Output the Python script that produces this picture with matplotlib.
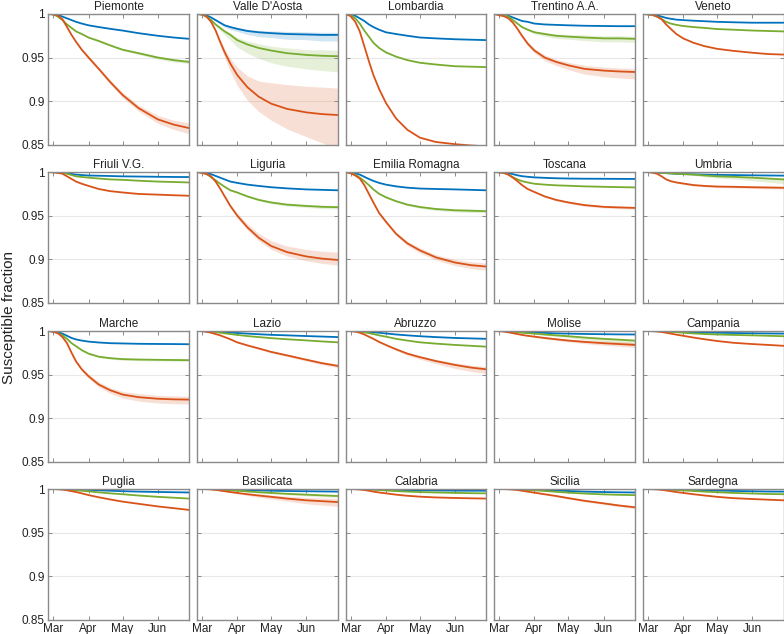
import matplotlib
matplotlib.use("Agg")
import matplotlib.pyplot as plt
import numpy as np

plt.rcParams['font.family'] = ['Liberation Sans', 'DejaVu Sans']

# days relative to 1 March
days = [-4.5, 0, 4, 8, 12, 16, 20, 25, 31, 40, 50, 61, 75, 92, 106, 119.5]

regions = ["Piemonte", "Valle D'Aosta", "Lombardia", "Trentino A.A.", "Veneto",
           "Friuli V.G.", "Liguria", "Emilia Romagna", "Toscana", "Umbria",
           "Marche", "Lazio", "Abruzzo", "Molise", "Campania",
           "Puglia", "Basilicata", "Calabria", "Sicilia", "Sardegna"]

month_ticks = [0, 31, 61, 92]
month_labels = ["Mar", "Apr", "May", "Jun"]
y_ticks = [0.85, 0.9, 0.95, 1.0]
y_labels = ["0.85", "0.9", "0.95", "1"]

# susceptible fraction curves: blue, green, orange
blue = {
 "Piemonte":      [1,0.9998,0.999,0.997,0.995,0.993,0.991,0.989,0.987,0.985,0.983,0.981,0.978,0.975,0.973,0.9715],
 "Valle D'Aosta": [1,0.9995,0.9985,0.996,0.993,0.990,0.987,0.985,0.983,0.9805,0.979,0.978,0.977,0.9765,0.976,0.976],
 "Lombardia":     [1,0.9995,0.998,0.995,0.992,0.988,0.985,0.982,0.979,0.977,0.975,0.973,0.972,0.971,0.9705,0.970],
 "Trentino A.A.": [1,0.9998,0.9995,0.998,0.996,0.994,0.992,0.991,0.989,0.988,0.9875,0.987,0.9865,0.9862,0.986,0.986],
 "Veneto":        [1,0.9998,0.9995,0.9985,0.997,0.9955,0.9945,0.9935,0.993,0.9923,0.9917,0.991,0.9905,0.990,0.990,0.990],
 "Friuli V.G.":   [1,0.9999,0.9997,0.9993,0.9985,0.9978,0.997,0.9965,0.996,0.9957,0.9954,0.995,0.9948,0.9945,0.9943,0.9942],
 "Liguria":       [1,0.9997,0.999,0.9975,0.9955,0.9935,0.9915,0.989,0.9875,0.9855,0.984,0.9825,0.9812,0.980,0.9795,0.979],
 "Emilia Romagna":[1,0.9996,0.9986,0.997,0.9945,0.992,0.9898,0.9875,0.9855,0.9835,0.982,0.981,0.9805,0.980,0.9795,0.979],
 "Toscana":       [1,0.9998,0.9995,0.9988,0.9975,0.9962,0.9952,0.9945,0.9938,0.9933,0.9928,0.9925,0.9923,0.9922,0.9921,0.992],
 "Umbria":        [1,0.9999,0.9997,0.9993,0.999,0.9987,0.9984,0.998,0.9977,0.9974,0.997,0.9967,0.9965,0.9962,0.996,0.9958],
 "Marche":        [1,0.9996,0.9985,0.997,0.9945,0.992,0.9903,0.989,0.9878,0.9868,0.986,0.9857,0.9853,0.9851,0.985,0.9848],
 "Lazio":         [1,1,0.9999,0.9997,0.9994,0.999,0.9986,0.9982,0.9977,0.997,0.9963,0.9956,0.995,0.9942,0.9936,0.993],
 "Abruzzo":       [1,1,0.9999,0.9997,0.9994,0.999,0.9985,0.998,0.9972,0.996,0.995,0.994,0.993,0.992,0.9915,0.991],
 "Molise":        [1,1,1,0.9998,0.9996,0.9993,0.999,0.9987,0.9983,0.9978,0.9973,0.997,0.9966,0.9963,0.9961,0.996],
 "Campania":      [1,1,1,0.9999,0.9998,0.9996,0.9994,0.9992,0.999,0.9986,0.9982,0.998,0.9977,0.9974,0.9972,0.997],
 "Puglia":        [1,1,1,1,0.9999,0.9997,0.9995,0.9993,0.999,0.9985,0.998,0.9975,0.997,0.9966,0.9963,0.996],
 "Basilicata":    [1,1,1,1,0.9999,0.9998,0.9996,0.9994,0.9992,0.9988,0.9984,0.998,0.9977,0.9974,0.9972,0.997],
 "Calabria":      [1,1,1,1,0.9999,0.9998,0.9997,0.9995,0.9993,0.999,0.9987,0.9985,0.9983,0.9981,0.998,0.998],
 "Sicilia":       [1,1,1,1,0.9999,0.9998,0.9997,0.9995,0.9993,0.9988,0.9983,0.9977,0.997,0.9965,0.9962,0.996],
 "Sardegna":      [1,1,1,1,0.9999,0.9998,0.9997,0.9995,0.9993,0.999,0.9986,0.9982,0.9978,0.9974,0.9971,0.997],
}
green = {
 "Piemonte":      [1,0.9995,0.997,0.993,0.988,0.984,0.980,0.977,0.973,0.969,0.964,0.959,0.955,0.950,0.947,0.945],
 "Valle D'Aosta": [1,0.9995,0.997,0.993,0.988,0.984,0.980,0.976,0.970,0.965,0.961,0.958,0.955,0.953,0.952,0.9515],
 "Lombardia":     [1,0.999,0.995,0.989,0.981,0.974,0.967,0.961,0.956,0.951,0.947,0.944,0.942,0.940,0.9395,0.939],
 "Trentino A.A.": [1,0.9995,0.999,0.997,0.993,0.989,0.985,0.982,0.979,0.977,0.975,0.974,0.973,0.972,0.972,0.9715],
 "Veneto":        [1,0.9997,0.9988,0.997,0.994,0.991,0.989,0.9875,0.9862,0.985,0.984,0.9827,0.982,0.981,0.9805,0.980],
 "Friuli V.G.":   [1,0.9998,0.9995,0.9988,0.998,0.9965,0.995,0.9943,0.9935,0.9925,0.9915,0.991,0.990,0.989,0.9885,0.988],
 "Liguria":       [1,0.9992,0.9977,0.994,0.9905,0.9865,0.983,0.979,0.9765,0.972,0.968,0.965,0.9625,0.961,0.960,0.9596],
 "Emilia Romagna":[1,0.999,0.9968,0.9935,0.9895,0.985,0.980,0.975,0.971,0.9665,0.9625,0.9598,0.9575,0.956,0.9555,0.955],
 "Toscana":       [1,0.9997,0.999,0.997,0.994,0.9915,0.9895,0.988,0.9865,0.9855,0.9847,0.9842,0.9835,0.983,0.9826,0.9823],
 "Umbria":        [1,0.9999,0.9997,0.9994,0.999,0.9987,0.9984,0.998,0.9976,0.997,0.996,0.995,0.9945,0.9935,0.9925,0.9915],
 "Marche":        [1,0.9993,0.9975,0.995,0.991,0.986,0.9825,0.978,0.974,0.9705,0.9688,0.9677,0.9672,0.9669,0.9667,0.9665],
 "Lazio":         [1,0.9999,0.9997,0.9993,0.9987,0.998,0.9973,0.9965,0.9955,0.9942,0.993,0.9918,0.9905,0.9892,0.988,0.987],
 "Abruzzo":       [1,0.9999,0.9997,0.9992,0.9985,0.9975,0.9965,0.995,0.9935,0.991,0.989,0.987,0.9855,0.984,0.983,0.982],
 "Molise":        [1,1,0.9998,0.9995,0.999,0.9985,0.998,0.9975,0.997,0.996,0.995,0.994,0.9925,0.991,0.990,0.989],
 "Campania":      [1,1,1,0.9998,0.9996,0.9993,0.999,0.9986,0.998,0.9972,0.9965,0.996,0.9955,0.995,0.9945,0.994],
 "Puglia":        [1,1,1,0.9998,0.9995,0.999,0.9985,0.998,0.9973,0.9962,0.995,0.994,0.9925,0.991,0.990,0.989],
 "Basilicata":    [1,1,1,0.9998,0.9996,0.9993,0.999,0.9985,0.998,0.9972,0.9963,0.9955,0.9945,0.9935,0.9927,0.992],
 "Calabria":      [1,1,1,0.9999,0.9997,0.9995,0.9992,0.9988,0.9983,0.9976,0.997,0.9965,0.996,0.9955,0.9952,0.995],
 "Sicilia":       [1,1,1,0.9999,0.9998,0.9996,0.9993,0.999,0.9985,0.9977,0.9968,0.9958,0.9948,0.9938,0.9933,0.993],
 "Sardegna":      [1,1,1,0.9999,0.9997,0.9995,0.9992,0.9988,0.9984,0.9977,0.997,0.9963,0.9955,0.9948,0.9943,0.994],
}
orange = {
 "Piemonte":      [1,0.9995,0.998,0.994,0.985,0.976,0.968,0.959,0.950,0.937,0.922,0.907,0.892,0.879,0.873,0.869],
 "Valle D'Aosta": [1,0.9995,0.997,0.991,0.981,0.968,0.956,0.943,0.930,0.916,0.905,0.897,0.891,0.887,0.885,0.884],
 "Lombardia":     [1,0.9975,0.991,0.980,0.963,0.946,0.930,0.914,0.898,0.880,0.867,0.858,0.853,0.8505,0.849,0.848],
 "Trentino A.A.": [1,0.9985,0.9975,0.995,0.990,0.983,0.975,0.966,0.958,0.950,0.945,0.941,0.937,0.935,0.934,0.9334],
 "Veneto":        [1,0.9995,0.999,0.997,0.994,0.988,0.983,0.977,0.972,0.967,0.963,0.960,0.9577,0.9555,0.954,0.9534],
 "Friuli V.G.":   [1,0.9995,0.999,0.998,0.995,0.992,0.989,0.9865,0.984,0.9805,0.978,0.9765,0.9748,0.974,0.9733,0.9727],
 "Liguria":       [1,0.999,0.9977,0.995,0.989,0.981,0.972,0.961,0.950,0.9365,0.9245,0.915,0.908,0.903,0.9005,0.899],
 "Emilia Romagna":[1,0.9985,0.996,0.9925,0.985,0.975,0.965,0.953,0.943,0.929,0.918,0.910,0.902,0.896,0.893,0.8914],
 "Toscana":       [1,0.9995,0.999,0.997,0.9935,0.9895,0.985,0.9805,0.977,0.972,0.968,0.965,0.962,0.960,0.9593,0.9588],
 "Umbria":        [1,0.9998,0.9993,0.998,0.995,0.9915,0.9895,0.988,0.9868,0.985,0.984,0.9833,0.983,0.9825,0.9822,0.9819],
 "Marche":        [1,0.999,0.9975,0.993,0.986,0.975,0.965,0.956,0.948,0.9385,0.932,0.927,0.924,0.9222,0.9215,0.9212],
 "Lazio":         [1,0.9998,0.999,0.998,0.9965,0.995,0.993,0.9905,0.987,0.9835,0.980,0.976,0.972,0.967,0.963,0.960],
 "Abruzzo":       [1,0.9998,0.9993,0.998,0.996,0.9935,0.991,0.9875,0.984,0.979,0.974,0.970,0.9655,0.961,0.958,0.956],
 "Molise":        [1,0.9998,0.9993,0.9985,0.9975,0.9965,0.9955,0.9945,0.9935,0.992,0.9905,0.989,0.9875,0.986,0.985,0.984],
 "Campania":      [1,1,0.9998,0.9994,0.9988,0.998,0.997,0.9958,0.9945,0.9925,0.9905,0.9885,0.9865,0.985,0.984,0.983],
 "Puglia":        [1,1,0.9997,0.9993,0.9985,0.9975,0.9965,0.995,0.993,0.9905,0.988,0.9855,0.983,0.980,0.978,0.976],
 "Basilicata":    [1,1,0.9998,0.9995,0.999,0.9982,0.9975,0.9965,0.9955,0.994,0.9925,0.991,0.989,0.987,0.986,0.985],
 "Calabria":      [1,1,0.9998,0.9994,0.9988,0.998,0.997,0.996,0.995,0.9935,0.9922,0.9912,0.9903,0.9897,0.9893,0.989],
 "Sicilia":       [1,1,0.9999,0.9997,0.9993,0.9988,0.998,0.997,0.9958,0.994,0.992,0.9895,0.9865,0.9835,0.981,0.979],
 "Sardegna":      [1,1,0.9998,0.9995,0.999,0.9983,0.9975,0.9965,0.9955,0.994,0.9925,0.991,0.9895,0.9885,0.9877,0.987],
}

# uncertainty bands: (offset below, offset above) at each day
bands = {
 ("Piemonte", "orange"): ([0,0,0,0,0.0005,0.001,0.001,0.0015,0.002,0.002,0.0025,0.003,0.0035,0.0045,0.0055,0.0065],
                          [0,0,0,0,0.0005,0.001,0.001,0.0015,0.002,0.002,0.0025,0.003,0.0035,0.0045,0.005,0.006]),
 ("Piemonte", "green"):  ([0,0,0,0,0,0.0003,0.0005,0.0005,0.0007,0.001,0.001,0.0012,0.0015,0.0018,0.002,0.002],
                          [0,0,0,0,0,0.0003,0.0005,0.0005,0.0007,0.001,0.001,0.0012,0.0015,0.0018,0.002,0.002]),
 ("Valle D'Aosta", "orange"): ([0,0,0,0.001,0.002,0.004,0.006,0.009,0.012,0.015,0.017,0.019,0.023,0.028,0.033,0.040],
                               [0,0,0,0.001,0.002,0.003,0.004,0.006,0.009,0.013,0.018,0.024,0.028,0.030,0.031,0.031]),
 ("Valle D'Aosta", "green"):  ([0,0,0,0.001,0.002,0.003,0.004,0.006,0.008,0.010,0.012,0.014,0.015,0.016,0.017,0.018],
                               [0,0,0,0.0005,0.001,0.0015,0.002,0.0025,0.003,0.004,0.005,0.005,0.006,0.006,0.007,0.007]),
 ("Valle D'Aosta", "blue"):   ([0,0,0,0.0005,0.001,0.0015,0.002,0.003,0.003,0.004,0.005,0.005,0.006,0.006,0.007,0.007],
                               [0,0,0,0,0.0003,0.0005,0.001,0.001,0.0015,0.002,0.002,0.0025,0.003,0.003,0.003,0.003]),
 ("Trentino A.A.", "orange"): ([0,0,0,0,0.0005,0.001,0.002,0.0025,0.003,0.0035,0.004,0.005,0.006,0.007,0.0075,0.008],
                               [0,0,0,0,0.0005,0.001,0.0015,0.002,0.0025,0.003,0.003,0.0035,0.004,0.004,0.004,0.004]),
 ("Trentino A.A.", "green"):  ([0,0,0,0,0.0003,0.0005,0.001,0.0015,0.002,0.0025,0.003,0.003,0.0035,0.004,0.004,0.004],
                               [0,0,0,0,0.0003,0.0005,0.001,0.001,0.0015,0.002,0.002,0.0025,0.003,0.003,0.003,0.003]),
 ("Liguria", "orange"):  ([0,0,0,0,0.0005,0.001,0.0015,0.002,0.0025,0.003,0.0035,0.004,0.0045,0.005,0.0055,0.006],
                          [0,0,0,0,0.0005,0.001,0.0015,0.002,0.003,0.004,0.005,0.006,0.007,0.008,0.0085,0.009]),
 ("Liguria", "green"):   ([0,0,0,0,0,0.0003,0.0005,0.0007,0.001,0.001,0.0012,0.0015,0.0017,0.0018,0.002,0.002],
                          [0,0,0,0,0,0.0003,0.0005,0.0007,0.001,0.001,0.0012,0.0015,0.0017,0.0018,0.002,0.002]),
 ("Emilia Romagna", "orange"): ([0,0,0,0,0.0005,0.001,0.0015,0.0015,0.002,0.002,0.0025,0.003,0.003,0.0035,0.004,0.004],
                                [0,0,0,0,0.0005,0.001,0.0015,0.0015,0.002,0.002,0.0025,0.003,0.003,0.0035,0.004,0.004]),
 ("Emilia Romagna", "green"):  ([0,0,0,0,0,0.0003,0.0005,0.0007,0.001,0.001,0.0012,0.0015,0.0017,0.0018,0.002,0.002],
                                [0,0,0,0,0,0.0003,0.0005,0.0007,0.001,0.001,0.0012,0.0015,0.0017,0.0018,0.002,0.002]),
 ("Toscana", "orange"):  ([0,0,0,0,0,0.0003,0.0005,0.0007,0.0008,0.001,0.001,0.0012,0.0013,0.0014,0.0015,0.0015],
                          [0,0,0,0,0,0.0003,0.0005,0.0007,0.0008,0.001,0.001,0.0012,0.0013,0.0014,0.0015,0.0015]),
 ("Umbria", "orange"):   ([0,0,0,0,0,0.0003,0.0005,0.0007,0.0008,0.001,0.001,0.0012,0.0013,0.0014,0.0015,0.0015],
                          [0,0,0,0,0,0.0003,0.0005,0.0007,0.0008,0.001,0.001,0.0012,0.0013,0.0014,0.0015,0.0015]),
 ("Umbria", "green"):    ([0,0,0,0,0,0.0002,0.0003,0.0005,0.0007,0.001,0.0015,0.002,0.0025,0.0035,0.0042,0.005],
                          [0,0,0,0,0,0,0.0001,0.0002,0.0003,0.0004,0.0005,0.0006,0.0007,0.0008,0.0009,0.001]),
 ("Marche", "orange"):   ([0,0,0,0,0.0005,0.001,0.0015,0.002,0.0025,0.003,0.0035,0.004,0.0045,0.005,0.005,0.005],
                          [0,0,0,0,0.0005,0.001,0.0015,0.002,0.0025,0.003,0.003,0.0035,0.004,0.004,0.004,0.004]),
 ("Marche", "green"):    ([0,0,0,0,0,0.0003,0.0005,0.0007,0.0008,0.001,0.001,0.0012,0.0013,0.0014,0.0015,0.0015],
                          [0,0,0,0,0,0.0003,0.0005,0.0007,0.0008,0.001,0.001,0.0012,0.0013,0.0014,0.0015,0.0015]),
 ("Lazio", "orange"):    ([0,0,0,0,0,0.0002,0.0003,0.0005,0.0006,0.0008,0.001,0.0012,0.0014,0.0016,0.0018,0.002],
                          [0,0,0,0,0,0.0002,0.0003,0.0005,0.0006,0.0008,0.001,0.0012,0.0014,0.0016,0.0018,0.002]),
 ("Abruzzo", "orange"):  ([0,0,0,0,0,0.0003,0.0005,0.0008,0.001,0.0015,0.002,0.0025,0.003,0.004,0.0045,0.005],
                          [0,0,0,0,0,0.0002,0.0004,0.0006,0.0008,0.001,0.0013,0.0016,0.002,0.0025,0.0028,0.003]),
 ("Molise", "orange"):   ([0,0,0,0,0,0.0002,0.0004,0.0006,0.0008,0.001,0.0013,0.0016,0.002,0.0024,0.0027,0.003],
                          [0,0,0,0,0,0.0002,0.0004,0.0006,0.0008,0.001,0.0013,0.0016,0.002,0.0024,0.0027,0.003]),
 ("Molise", "green"):    ([0,0,0,0,0,0.0001,0.0002,0.0004,0.0006,0.0009,0.0013,0.0018,0.0024,0.003,0.0035,0.004],
                          [0,0,0,0,0,0,0.0001,0.0002,0.0003,0.0004,0.0005,0.0006,0.0007,0.0008,0.0009,0.001]),
 ("Basilicata", "orange"): ([0,0,0,0,0,0.0003,0.0005,0.0008,0.001,0.0015,0.002,0.0025,0.003,0.004,0.0045,0.005],
                            [0,0,0,0,0,0.0003,0.0005,0.0008,0.001,0.0014,0.0018,0.0022,0.0027,0.0033,0.0037,0.004]),
 ("Basilicata", "green"):  ([0,0,0,0,0,0.0001,0.0002,0.0003,0.0004,0.0006,0.0008,0.001,0.0013,0.0016,0.0018,0.002],
                            [0,0,0,0,0,0.0001,0.0001,0.0002,0.0002,0.0003,0.0004,0.0005,0.0006,0.0007,0.0008,0.001]),
 ("Sicilia", "orange"):  ([0,0,0,0,0,0.0002,0.0003,0.0005,0.0006,0.0008,0.001,0.0011,0.0012,0.0013,0.0014,0.0015],
                          [0,0,0,0,0,0.0002,0.0003,0.0005,0.0006,0.0008,0.001,0.0011,0.0012,0.0013,0.0014,0.0015]),
}

colors = {"blue": "#0072BD", "green": "#77AC30", "orange": "#D95319"}
series = [("blue", blue), ("green", green), ("orange", orange)]

W, H = 784, 634
fig = plt.figure(figsize=(W / 100, H / 100), dpi=100)

col_left = [48.3, 196.9, 345.6, 494.2, 642.9]
row_top = [14.0, 172.0, 331.0, 489.0]
aw, ah = 140.6, 130.6
frame_col = "#8a8a8a"

x = np.array(days)
for i, name in enumerate(regions):
    r, c = divmod(i, 5)
    ax = fig.add_axes([col_left[c] / W, 1 - (row_top[r] + ah) / H, aw / W, ah / H])
    ax.set_xlim(-4.5, 119.5)
    ax.set_ylim(0.85, 1.0)
    for val in (0.9, 0.95):
        ax.axhline(val, color="#e8e8e8", lw=0.8, zorder=0)
    for key, d in series:
        y = np.array(d[name])
        if (name, key) in bands:
            lo, hi = bands[(name, key)]
            ax.fill_between(x, y - np.array(lo), y + np.array(hi), color=colors[key],
                            alpha=0.18, lw=0, zorder=1)
        ax.plot(x, y, color=colors[key], lw=1.3, zorder=2)
    ax.set_xticks(month_ticks)
    ax.set_yticks(y_ticks)
    if r == 3:
        ax.set_xticklabels(month_labels)
    else:
        ax.set_xticklabels([])
    if c == 0:
        ax.set_yticklabels(y_labels)
    else:
        ax.set_yticklabels([])
    ax.tick_params(direction="in", length=3, width=0.7, color=frame_col,
                   top=True, right=True, labelsize=8.5, pad=2.5, labelcolor="#222222")
    for s in ax.spines.values():
        s.set_color(frame_col)
        s.set_linewidth(1.0)
    ax.set_title(name, fontsize=8.5, pad=3, color="#222222")

fig.text(0.011, 0.5, "Susceptible fraction", rotation=90, va="center", ha="center",
         fontsize=11, color="#222222")

fig.savefig("out.png", dpi=100)
